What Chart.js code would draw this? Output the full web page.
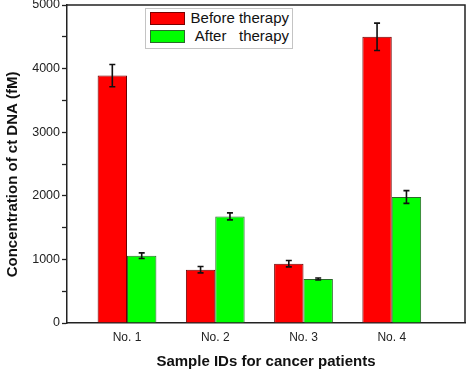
<!DOCTYPE html>
<html>
<head>
<meta charset="utf-8">
<script src="https://cdn.jsdelivr.net/npm/chart.js@4/dist/chart.umd.min.js"></script>
<style>
  body { margin: 0; background: #fff; }
  #wrap { position: relative; width: 468px; height: 371px; }
  #legend { position: absolute; left: 145px; top: 8px; width: 146px; height: 39px;
            border: 1px solid #c4c4c4; background: #fff; font-family: "Liberation Sans", Arial, sans-serif; font-size: 15px; color: #111; }
  .row { position: absolute; left: 0; width: 146px; height: 14px; }
  .sw { position: absolute; left: 4px; top: 0; width: 33px; height: 11px; }
  .lab { position: absolute; right: 3px; top: -3px; white-space: pre; line-height: 17px; }
</style>
</head>
<body>
<div id="wrap">
  <canvas id="myChart" width="468" height="371"></canvas>
  <div id="legend">
    <div class="row" style="top:3px"><div class="sw" style="background:#ff0000;border:1px solid #7a0000"></div><div class="lab">Before therapy</div></div>
    <div class="row" style="top:21px"><div class="sw" style="background:#00ff00;border:1px solid #2a6a2a"></div><div class="lab">After   therapy</div></div>
  </div>
</div>
<script>
// chart data
var patients = ['No. 1', 'No. 2', 'No. 3', 'No. 4'];
var patientPos = [1, 2, 3, 4];
var beforeValues = [3890, 838, 932, 4500];
var beforeErrors = [175, 50, 50, 215];
var afterValues = [1058, 1676, 692, 1981];
var afterErrors = [45, 55, 15, 100];
var yTicks = [0, 1000, 2000, 3000, 4000, 5000];

function points(vals) {
    return vals.map((v, i) => ({ x: patientPos[i], y: v }));
}

// error bars drawn on top of the bars
var errorBars = {
    id: 'errorBars',
    afterDatasetsDraw: function(chart) {
        var ctx = chart.ctx;
        var yScale = chart.scales.y;
        ctx.save();
        ctx.strokeStyle = '#111';
        ctx.lineWidth = 1.6;
        chart.data.datasets.forEach(function(ds, i) {
            var meta = chart.getDatasetMeta(i);
            meta.data.forEach(function(bar, j) {
                var v = ds.data[j].y, e = ds.errors[j];
                var top = yScale.getPixelForValue(v + e);
                var bot = yScale.getPixelForValue(v - e);
                ctx.beginPath();
                ctx.moveTo(bar.x, top); ctx.lineTo(bar.x, bot);
                ctx.moveTo(bar.x - 3, top); ctx.lineTo(bar.x + 3, top);
                ctx.moveTo(bar.x - 3, bot); ctx.lineTo(bar.x + 3, bot);
                ctx.stroke();
            });
        });
        ctx.restore();
    }
};

// top and right frame lines
var frame = {
    id: 'frame',
    afterDraw: function(chart) {
        var a = chart.chartArea, ctx = chart.ctx;
        ctx.save();
        ctx.strokeStyle = '#222';
        ctx.lineWidth = 1.5;
        ctx.beginPath();
        ctx.moveTo(a.left, a.top); ctx.lineTo(a.right, a.top); ctx.lineTo(a.right, a.bottom);
        ctx.stroke();
        ctx.restore();
    }
};

Chart.defaults.font.family = '"Liberation Sans", Arial, sans-serif';
Chart.defaults.color = '#222';

var ctx = document.getElementById('myChart').getContext('2d');
var myChart = new Chart(ctx, {
    type: 'bar',
    data: {
        datasets: [{
            label: 'Before therapy',
            data: points(beforeValues),
            errors: beforeErrors,
            backgroundColor: '#ff0000',
            borderColor: '#6a0000',
            borderWidth: 1
        }, {
            label: 'After therapy',
            data: points(afterValues),
            errors: afterErrors,
            backgroundColor: '#00ff00',
            borderColor: '#2a6a2a',
            borderWidth: 1
        }]
    },
    options: {
        responsive: false,
        animation: false,
        categoryPercentage: 0.666,
        barPercentage: 1.0,
        layout: { padding: { top: 5, right: 3, left: 0, bottom: 0 } },
        plugins: { legend: { display: false }, tooltip: { enabled: false } },
        scales: {
            x: {
                type: 'linear',
                offset: false,
                min: 0.32,
                max: 4.83,
                afterBuildTicks: function(scale) { scale.ticks = patientPos.map(v => ({ value: v })); },
                afterFit: function(scale) {
                    scale.height = 48;
                    scale.paddingLeft = 0;
                    scale.paddingRight = 0;
                },
                grid: { drawOnChartArea: false, tickLength: 4, tickColor: 'rgba(0,0,0,0)' },
                border: { color: '#222', width: 1.5 },
                ticks: {
                    autoSkip: false,
                    maxRotation: 0,
                    padding: 3,
                    font: { size: 12 },
                    callback: function(v) { return patients[patientPos.indexOf(v)] || ''; }
                },
                title: {
                    display: true,
                    text: 'Sample IDs for cancer patients',
                    font: { size: 15, weight: 'bold' },
                    color: '#111',
                    padding: { top: 8, bottom: 0 }
                }
            },
            y: {
                min: 0,
                max: 5000,
                afterBuildTicks: function(scale) {
                    var t = [];
                    for (var v = 0; v <= 5000; v += 500) t.push({ value: v });
                    scale.ticks = t;
                },
                afterFit: function(scale) {
                    scale.width = 67;
                    scale.paddingTop = 0;
                    scale.paddingBottom = 0;
                },
                grid: { drawOnChartArea: false, tickLength: 5, tickColor: '#222', tickWidth: 1.3 },
                border: { color: '#222', width: 1.5 },
                ticks: {
                    autoSkip: false,
                    padding: 2,
                    font: { size: 12.5 },
                    callback: function(v) { return yTicks.indexOf(v) >= 0 ? String(v) : ''; }
                },
                title: {
                    display: true,
                    text: 'Concentration of ct DNA (fM)     ',
                    font: { size: 15, weight: 'bold' },
                    color: '#111',
                    padding: { top: 4, bottom: 0 }
                }
            }
        }
    },
    plugins: [errorBars, frame]
});
</script>
</body>
</html>
